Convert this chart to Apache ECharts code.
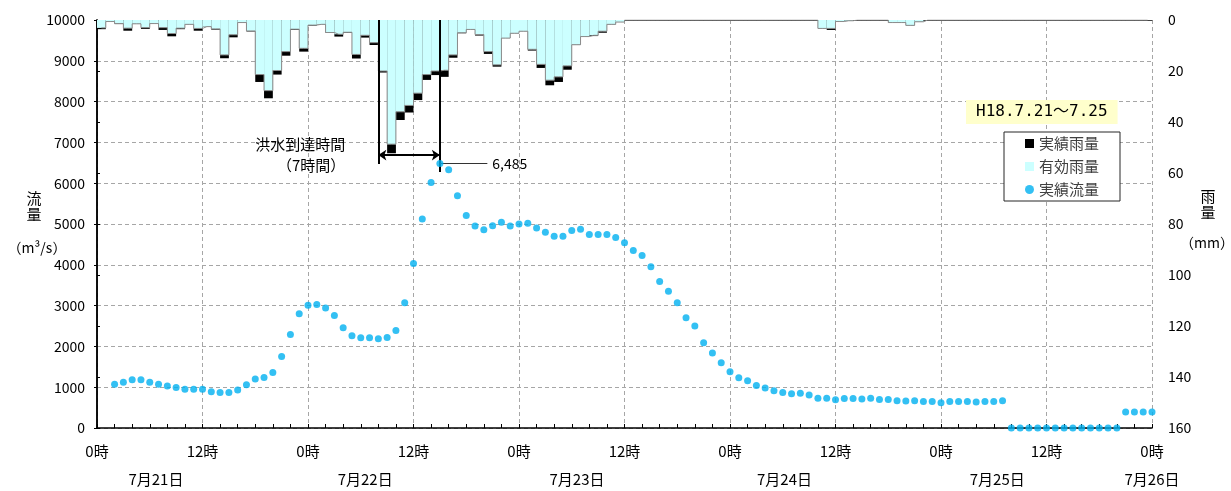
<!DOCTYPE html>
<html>
<head>
<meta charset="utf-8">
<script src="https://cdn.jsdelivr.net/npm/echarts@6/dist/echarts.min.js"></script>
<style>
  html, body { margin: 0; padding: 0; background: #fff; }
  #chart { width: 1231px; height: 491px; }
</style>
</head>
<body>
<div id="chart"></div>
<script>
// Hourly hydrograph, 2006-07-21 0:00 to 2006-07-26 0:00 (hour index 0..120)

// Rainfall per hour (mm), hours 0..119
const actualRain = [
  3.6, 0.6, 1.6, 4.2, 1.5, 3.5, 1.4, 3.9, 6.4, 3.6,
  1.7, 4.2, 2.6, 3.8, 15.0, 6.8, 1.0, 4.5, 24.3, 30.7,
  21.4, 14.0, 3.9, 12.4, 2.2, 1.7, 5.1, 6.5, 5.0, 15.1,
  6.9, 9.8, 20.6, 52.3, 39.2, 36.3, 31.4, 23.5, 21.6, 22.3,
  14.8, 5.2, 3.7, 6.1, 13.3, 18.3, 7.1, 5.2, 4.4, 12.0,
  18.8, 25.6, 24.3, 19.5, 9.7, 6.5, 6.3, 5.0, 1.7, 0.8,
  0, 0, 0, 0, 0, 0, 0, 0, 0, 0,
  0, 0, 0, 0, 0, 0, 0, 0, 0, 0,
  0, 0, 3.3, 3.9, 0.6, 0.3, 0, 0, 0, 0,
  1.0, 1.0, 2.1, 0.7, 0, 0, 0, 0, 0, 0,
  0, 0, 0, 0, 0, 0, 0, 0, 0, 0,
  0, 0, 0, 0, 0, 0, 0, 0, 0, 0
];
const effectiveRain = [
  3.1, 0.6, 1.4, 3.2, 1.5, 3.0, 1.4, 3.0, 5.3, 3.2,
  1.7, 3.3, 2.6, 3.5, 13.7, 5.8, 1.0, 4.3, 21.4, 27.7,
  19.8, 12.4, 3.6, 11.1, 2.0, 1.7, 4.9, 5.6, 4.8, 13.5,
  6.0, 8.9, 20.0, 48.7, 36.0, 33.5, 28.7, 21.4, 20.0, 19.7,
  13.7, 5.0, 3.7, 5.7, 12.4, 17.6, 7.1, 5.2, 4.4, 11.5,
  17.4, 23.6, 22.3, 18.0, 9.7, 6.5, 6.0, 4.4, 1.7, 0.8,
  0, 0, 0, 0, 0, 0, 0, 0, 0, 0,
  0, 0, 0, 0, 0, 0, 0, 0, 0, 0,
  0, 0, 3.3, 3.3, 0.6, 0.3, 0, 0, 0, 0,
  1.0, 1.0, 2.1, 0.7, 0, 0, 0, 0, 0, 0,
  0, 0, 0, 0, 0, 0, 0, 0, 0, 0,
  0, 0, 0, 0, 0, 0, 0, 0, 0, 0
];

// Observed discharge (m3/s) at each hour 0..120
const flow = [
  null, null, 1070, 1120, 1180, 1180, 1120, 1070, 1030, 990,
  950, 950, 950, 890, 870, 870, 930, 1060, 1200, 1240,
  1360, 1750, 2290, 2800, 3010, 3030, 2940, 2760, 2460, 2260,
  2210, 2210, 2190, 2220, 2390, 3070, 4030, 5120, 6020, 6485,
  6330, 5690, 5210, 4950, 4860, 4960, 5040, 4950, 5000, 5020,
  4900, 4800, 4700, 4700, 4840, 4870, 4740, 4740, 4740, 4670,
  4540, 4350, 4230, 3950, 3590, 3350, 3070, 2700, 2500, 2090,
  1840, 1600, 1380, 1230, 1160, 1040, 980, 910, 870, 840,
  850, 810, 730, 730, 690, 720, 720, 710, 730, 700,
  700, 670, 660, 670, 650, 650, 620, 650, 650, 650,
  640, 650, 650, 670, 0, 0, 0, 0, 0, 0,
  0, 0, 0, 0, 0, 0, 0, 390, 390, 390,
  390
];

// Axis labels
const hourTickLabels = ['0時', '12時'];
const dateLabels = ['7月21日', '7月22日', '7月23日', '7月24日', '7月25日', '7月26日'];
const hourCategories = actualRain.map((_, i) => String(i));

// Flood arrival time: from rainfall peak start to discharge peak
const arrivalStartHour = 32;
const peakHour = 39;
const peakFlow = flow[peakHour];

const FONT = '"Noto Sans CJK JP", "Noto Sans", sans-serif';

const flowPoints = [];
flow.forEach((v, i) => { if (v !== null) flowPoints.push([i, v]); });

const chart = echarts.init(document.getElementById('chart'), null, { renderer: 'canvas' });

chart.setOption({
  animation: false,
  backgroundColor: '#fff',
  textStyle: { fontFamily: FONT },
  grid: { left: 97, right: 79, top: 20, bottom: 63, containLabel: false },
  title: {
    text: 'H18.7.21～7.25',
    left: 966,
    top: 100,
    backgroundColor: '#ffffcc',
    padding: [4, 10, 4, 10],
    textStyle: {
      fontSize: 16,
      fontWeight: 'normal',
      color: '#000',
      fontFamily: '"DejaVu Sans Mono", "Noto Sans CJK JP", monospace'
    }
  },
  legend: {
    orient: 'vertical',
    left: 1004,
    top: 132,
    itemWidth: 9,
    itemHeight: 9,
    itemGap: 8,
    padding: [4, 21, 4, 21],
    backgroundColor: '#fff',
    borderColor: '#262626',
    borderWidth: 1,
    borderRadius: 0,
    textStyle: { fontSize: 15, color: '#404040', fontFamily: FONT },
    data: [
      { name: '実績雨量', icon: 'rect' },
      { name: '有効雨量', icon: 'rect', itemStyle: { borderWidth: 0 } },
      { name: '実績流量', icon: 'circle' }
    ]
  },
  graphic: [
    {
      type: 'text', x: 34, y: 206, silent: true,
      style: { text: '流\n量', font: '15px ' + FONT, fill: '#000', align: 'center', verticalAlign: 'middle', lineHeight: 16 }
    },
    {
      type: 'text', x: 37, y: 248, silent: true,
      style: { text: '（m³/s）', font: '14px ' + FONT, fill: '#000', align: 'center', verticalAlign: 'middle' }
    },
    {
      type: 'text', x: 1208, y: 204, silent: true,
      style: { text: '雨\n量', font: '15px ' + FONT, fill: '#000', align: 'center', verticalAlign: 'middle', lineHeight: 16 }
    },
    {
      type: 'text', x: 1207, y: 243, silent: true,
      style: { text: '（mm）', font: '14px ' + FONT, fill: '#000', align: 'center', verticalAlign: 'middle' }
    }
  ],
  xAxis: [
    {
      // time axis (hours)
      type: 'value',
      min: 0,
      max: 120,
      interval: 12,
      position: 'bottom',
      axisLine: { show: true, lineStyle: { color: '#000', width: 1.5 } },
      axisTick: { show: true, inside: true, length: 4, lineStyle: { color: '#000' } },
      minorTick: { show: true, splitNumber: 6, length: 4, lineStyle: { color: '#000' } },
      splitLine: { show: true, lineStyle: { color: '#a6a6a6', type: [4, 3], width: 1 } },
      axisLabel: {
        margin: 16,
        fontSize: 15,
        color: '#000',
        fontFamily: FONT,
        formatter: v => (v % 24 === 0 ? hourTickLabels[0] : hourTickLabels[1])
      }
    },
    {
      // hourly bands for rainfall bars; also draws the top frame line
      type: 'category',
      data: hourCategories,
      boundaryGap: true,
      position: 'top',
      axisLine: { show: true, lineStyle: { color: '#404040', width: 1 } },
      axisTick: { show: false },
      axisLabel: { show: false },
      splitLine: { show: false }
    },
    {
      // date row under the hour labels
      type: 'value',
      min: 0,
      max: 120,
      position: 'bottom',
      offset: 28,
      axisLine: { show: false },
      axisTick: { show: false },
      splitLine: { show: false },
      axisLabel: {
        show: true,
        margin: 16,
        fontSize: 15,
        color: '#000',
        fontFamily: FONT,
        showMinLabel: true,
        showMaxLabel: true,
        customValues: [6.7, 30.5, 54.6, 78.2, 102.4, 120],
        formatter: v => dateLabels[Math.min(dateLabels.length - 1, Math.floor(v / 24))]
      }
    }
  ],
  yAxis: [
    {
      type: 'value',
      min: 0,
      max: 10000,
      interval: 1000,
      position: 'left',
      axisLine: { show: true, lineStyle: { color: '#000', width: 1.5 } },
      axisTick: { show: true, length: 3, lineStyle: { color: '#000' } },
      splitLine: { show: true, lineStyle: { color: '#a6a6a6', type: [4, 3], width: 1 } },
      axisLabel: { margin: 12, fontSize: 14, color: '#000', fontFamily: FONT, formatter: v => String(v) }
    },
    {
      type: 'value',
      min: 0,
      max: 160,
      interval: 20,
      inverse: true,
      position: 'right',
      axisLine: { show: true, lineStyle: { color: '#000', width: 1.5 } },
      axisTick: { show: true, length: 3, lineStyle: { color: '#000' } },
      splitLine: { show: false },
      axisLabel: { margin: 16, fontSize: 14, color: '#000', fontFamily: FONT }
    }
  ],
  series: [
    {
      name: '実績雨量',
      type: 'bar',
      xAxisIndex: 1,
      yAxisIndex: 1,
      data: actualRain,
      barWidth: '100%',
      barGap: '-100%',
      itemStyle: { color: '#000' },
      z: 2
    },
    {
      name: '有効雨量',
      type: 'bar',
      xAxisIndex: 1,
      yAxisIndex: 1,
      data: effectiveRain,
      barWidth: '100%',
      barGap: '-100%',
      itemStyle: { color: '#ccffff' },
      z: 3
    },
    {
      // outline of the effective-rain steps
      type: 'line',
      xAxisIndex: 1,
      yAxisIndex: 1,
      data: effectiveRain,
      step: 'middle',
      symbol: 'none',
      silent: true,
      lineStyle: { color: '#8c8c8c', width: 1 },
      z: 4
    },
    {
      name: '実績流量',
      type: 'scatter',
      xAxisIndex: 0,
      yAxisIndex: 0,
      data: flowPoints,
      symbol: 'circle',
      symbolSize: 7,
      clip: false,
      itemStyle: { color: '#00b0f0' },
      z: 5,
      markLine: {
        silent: true,
        animation: false,
        symbol: ['none', 'none'],
        lineStyle: { type: 'solid', color: '#000', width: 2 },
        label: { show: false },
        data: [
          [
            { coord: [arrivalStartHour, 10000] },
            { coord: [arrivalStartHour, 6470] }
          ],
          [
            { coord: [peakHour, 10000] },
            { coord: [peakHour, 6275] }
          ],
          [
            {
              coord: [arrivalStartHour, 6690],
              symbol: 'arrow',
              symbolSize: 8,
              label: {
                show: true,
                position: 'start',
                distance: 33,
                formatter: '洪水到達時間\n（7時間）',
                align: 'right',
                fontSize: 15,
                lineHeight: 21,
                color: '#000',
                fontFamily: FONT
              }
            },
            { coord: [peakHour, 6690], symbol: 'arrow', symbolSize: 8 }
          ],
          [
            {
              coord: [peakHour, peakFlow],
              lineStyle: { color: '#333', width: 1, type: 'solid' },
              label: {
                show: true,
                position: 'end',
                distance: 5,
                formatter: peakFlow.toLocaleString('en-US'),
                fontSize: 14,
                color: '#000',
                fontFamily: FONT
              }
            },
            { coord: [44.4, peakFlow] }
          ]
        ]
      }
    }
  ]
});
</script>
</body>
</html>
